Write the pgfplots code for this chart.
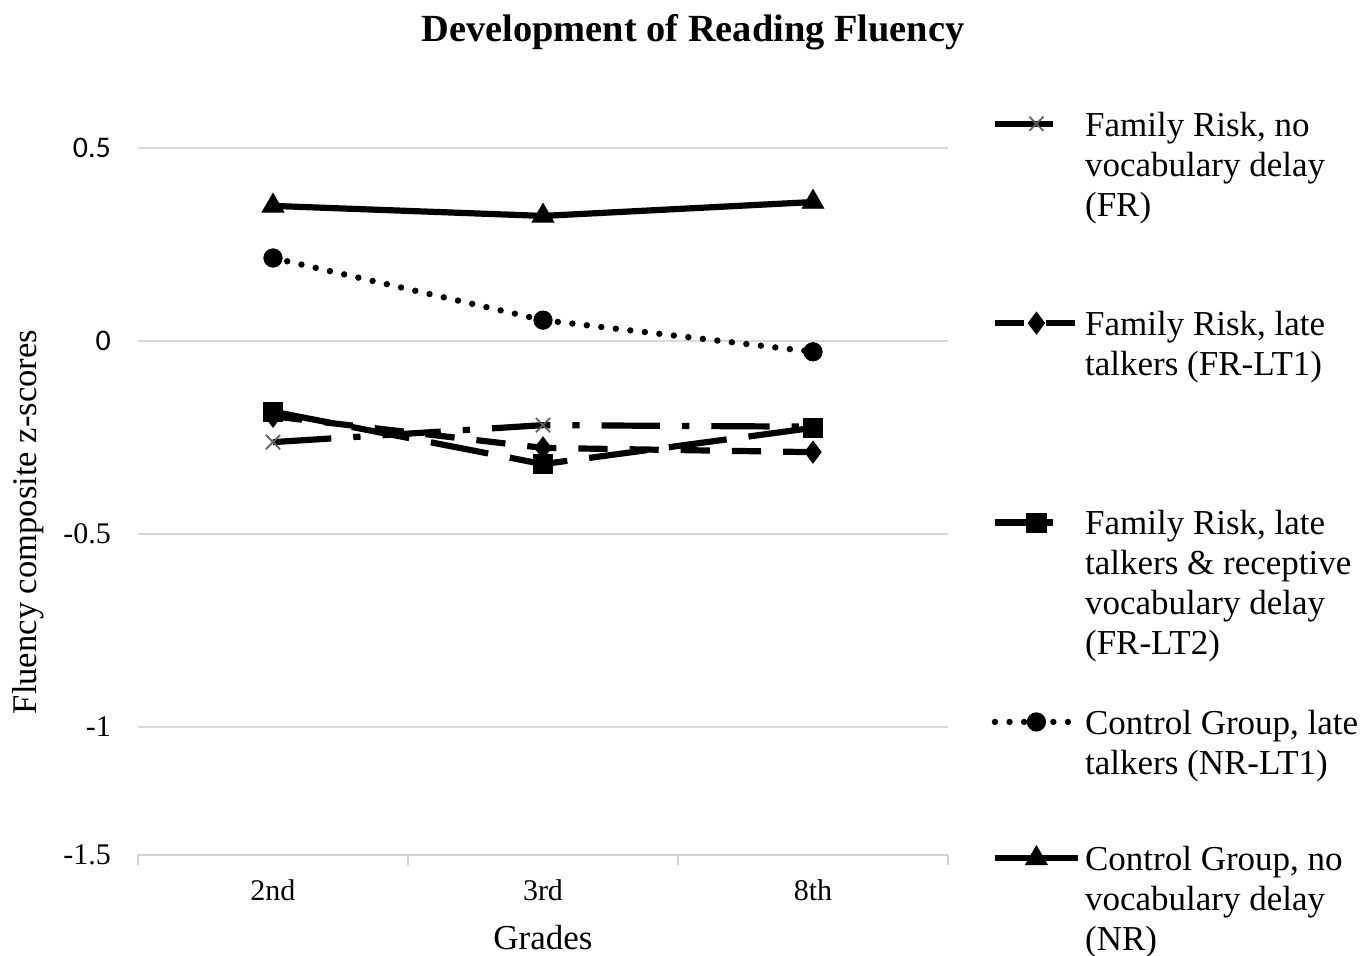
\documentclass[border=0pt]{standalone}
\usepackage{pgfplots}
\pgfplotsset{compat=1.18}
\usepackage{fontspec}
\setmainfont{Liberation Serif}
\newfontfamily\calib{Carlito}
\begin{document}
\begin{tikzpicture}
\useasboundingbox (-69pt,-50.5pt) rectangle (614.5pt,427.5pt);
\node[font=\bfseries\fontsize{19.2}{22}\selectfont] at (277.5pt,411.5pt) {Development of Reading Fluency};
\begin{axis}[
  at={(0pt,0pt)}, anchor=south west,
  scale only axis, width=405pt, height=353.5pt,
  xmin=-0.5, xmax=2.5, ymin=-1.3316, ymax=0.5,
  axis lines*=left,
  x axis line style={-, draw=gray!35, line width=1pt},
  y axis line style={draw=none},
  xtick={0,1,2}, xticklabels={2nd,3rd,8th},
  minor xtick={-0.5,0.5,1.5,2.5},
  major tick length=0pt, minor tick length=5pt, tick align=outside,
  xtick style={draw=gray!35, line width=1pt},
  ytick style={draw=none},
  ytick={-1.3316,-1,-0.5,0,0.5},
  yticklabels={-1.5,-1,-0.5,{\calib 0},{\calib 0.5}},
  ymajorgrids, major grid style={draw=gray!30, line width=1pt},
  ticklabel style={font=\fontsize{15}{18}\selectfont},
  yticklabel style={xshift=-10pt},
  xticklabel style={yshift=-9pt},
  every axis y label/.style={at={(axis description cs:-0.136,0.471)}, rotate=90, anchor=center, font=\fontsize{17.3}{20}\selectfont},
  every axis x label/.style={at={(axis description cs:0.5,-0.117)}, anchor=center, font=\fontsize{17.5}{20}\selectfont},
  ylabel={Fluency composite z-scores},
  xlabel={Grades},
  clip=false,
  legend image code/.code={\draw[mark repeat=2,mark phase=2,#1] plot coordinates {(0pt,-8pt) (20.75pt,-8pt) (41.5pt,-8pt)};},
  legend style={at={(1.0535,1.0575)}, anchor=north west, draw=none, fill=none, inner sep=0pt, row sep=0pt, column sep=2pt,
    cells={anchor=north west}, font=\fontsize{17.5}{20}\selectfont,
    nodes={inner sep=0pt, text height=14pt}},
]
\addplot[black, line width=3.1pt, dash pattern=on 29.2pt off 11pt on 3.65pt off 11pt,
  mark=x, mark size=5pt, mark options={solid, draw=gray!75!black, line width=0.9pt},
  legend image code/.code={\draw[black, line width=3.1pt, dash pattern=on 29.2pt off 30pt, mark repeat=2, mark phase=2,
    mark=x, mark size=5pt, mark options={solid, draw=gray!75!black, line width=0.9pt}] plot coordinates {(0pt,-8pt) (20.75pt,-8pt) (41.5pt,-8pt)};}]
  coordinates {(0,-0.262) (1,-0.218) (2,-0.222)};
\addlegendentry[text depth=85.5pt]{\parbox[t]{150pt}{Family Risk, no\\vocabulary delay\\(FR)}}
\addplot[black, line width=3.1pt, dash pattern=on 14.6pt off 11pt,
  mark=diamond*, mark size=5.5pt, mark options={solid, fill=black, line width=0.4pt}]
  coordinates {(0,-0.195) (1,-0.277) (2,-0.288)};
\addlegendentry[text depth=85.5pt]{\parbox[t]{150pt}{Family Risk, late\\talkers (FR-LT1)}}
\addplot[black, line width=3.1pt, dash pattern=on 29.2pt off 11pt,
  mark=square*, mark size=4.8pt, mark options={solid, fill=black, line width=0.4pt},
  legend image code/.code={\draw[black, line width=3.1pt, dash pattern=on 29.2pt off 30pt, mark repeat=2, mark phase=2,
    mark=square*, mark size=4.8pt, mark options={solid, fill=black, line width=0.4pt}] plot coordinates {(0pt,-8pt) (20.75pt,-8pt) (41.5pt,-8pt)};}]
  coordinates {(0,-0.183) (1,-0.319) (2,-0.225)};
\addlegendentry[text depth=85.5pt]{\parbox[t]{150pt}{Family Risk, late\\talkers \& receptive\\vocabulary delay\\(FR-LT2)}}
\addplot[black, line width=3.2pt, line cap=round, dash pattern=on 0pt off 7.3pt,
  mark=*, mark size=4.6pt, mark options={solid, fill=black, line width=0.4pt}]
  coordinates {(0,0.215) (1,0.054) (2,-0.028)};
\addlegendentry[text depth=54pt]{\parbox[t]{150pt}{Control Group, late\\talkers (NR-LT1)}}
\addplot[black, line width=3.1pt,
  mark=triangle*, mark size=6.3pt, mark options={solid, fill=black, line width=0.4pt}]
  coordinates {(0,0.350) (1,0.324) (2,0.360)};
\addlegendentry{\parbox[t]{150pt}{Control Group, no\\vocabulary delay\\(NR)}}
\end{axis}
\end{tikzpicture}
\end{document}
